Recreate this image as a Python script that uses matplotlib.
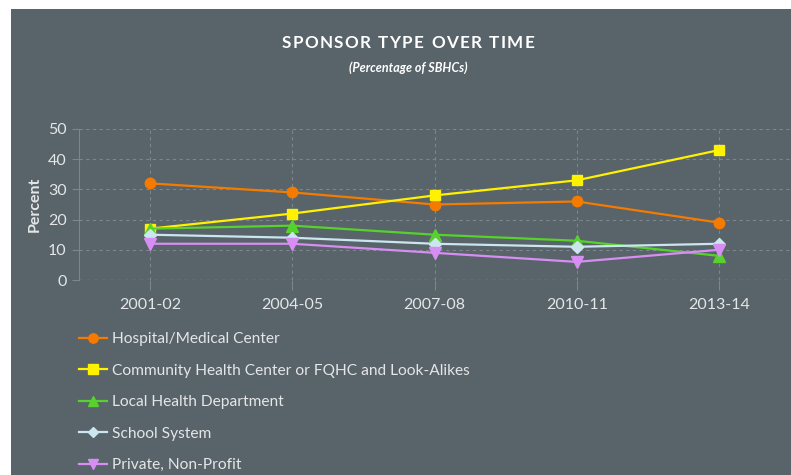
import numpy as np
import matplotlib
matplotlib.use("Agg")
import matplotlib.pyplot as plt
from matplotlib.patches import Rectangle

# data
years = ["2001-02", "2004-05", "2007-08", "2010-11", "2013-14"]
hospital = [32, 29, 25, 26, 19]
chc = [17, 22, 28, 33, 43]
health_dept = [17, 18, 15, 13, 8]
school = [15, 14, 12, 11, 12]
private = [12, 12, 9, 6, 10]

series = [
    ("Hospital/Medical Center", hospital, "#F47B00", "o"),
    ("Community Health Center or FQHC and Look-Alikes", chc, "#FFF200", "s"),
    ("Local Health Department", health_dept, "#57D22C", "^"),
    ("School System", school, "#CBE6EF", "D"),
    ("Private, Non-Profit", private, "#D68EF2", "v"),
]

bg = "#59636A"
gridc = "#7C868C"
textc = "#E4E6E7"
plt.rcParams["font.family"] = ["Lato", "DejaVu Sans"]

fig = plt.figure(figsize=(7.91, 4.75), dpi=100)
fig.patch.set_facecolor("white")
# dark panel, white strip on the left and top
fig.patches.append(Rectangle((11 / 791, 0), 1, 1 - 9 / 475, transform=fig.transFigure,
                             facecolor=bg, edgecolor="none", zorder=-10))

ax = fig.add_axes([79 / 791, 1 - 280 / 475, (790 - 79) / 791, (280 - 129) / 475])
ax.set_facecolor(bg)
x = np.arange(len(years))
sizes = {"o": 7.5, "s": 7.5, "^": 8, "D": 6, "v": 8}
for name, vals, col, m in series:
    ax.plot(x, vals, color=col, marker=m, markersize=sizes[m], linewidth=1.6,
            label=name, clip_on=False, zorder=3)

ax.set_xlim(-0.5, len(years) - 0.5)
ax.set_ylim(0, 50)
ax.set_yticks([0, 10, 20, 30, 40, 50])
ax.set_xticks(x)
ax.set_xticklabels(years)
ax.grid(True, color=gridc, linestyle=(0, (3, 3)), linewidth=0.8)
ax.set_axisbelow(True)
for s in ["top", "right", "bottom"]:
    ax.spines[s].set_visible(False)
ax.spines["left"].set_color(gridc)
ax.spines["left"].set_linewidth(0.8)
ax.axhline(0, color="#9AA2A7", linestyle=(0, (3, 3)), linewidth=0.9, zorder=1)
ax.tick_params(axis="both", colors=gridc, labelcolor=textc, labelsize=11.5)
ax.tick_params(axis="x", length=7, pad=6)
ax.tick_params(axis="y", length=5, pad=4)
ax.set_ylabel("Percent", color=textc, fontsize=11.5, fontweight="bold", labelpad=4)

# title with letter spacing: place each character
title = "SPONSOR TYPE OVER TIME"
track = 1.3  # extra px between letters
fig.canvas.draw()
r = fig.canvas.get_renderer()
widths = []
for ch in title:
    t = fig.text(0, 0, ch if ch != " " else "n", fontsize=12.3, fontweight="bold")
    w = t.get_window_extent(r).width
    if ch == " ":
        w *= 0.5
    widths.append(w)
    t.remove()
total = sum(widths) + track * (len(title) - 1)
xpos = 408 - total / 2
for ch, w in zip(title, widths):
    if ch != " ":
        fig.text(xpos / 791, 1 - 43 / 475, ch, color="white", fontsize=12.3,
                 fontweight="bold", ha="left", va="center")
    xpos += w + track

fig.text(408 / 791, 1 - 68 / 475, "(Percentage of SBHCs)", color="white",
         fontsize=9, fontweight="bold", style="italic", ha="center", va="center")

leg = fig.legend(loc="upper left", bbox_to_anchor=(79 / 791, 1 - 332 / 475),
                 frameon=False, fontsize=11.2, labelcolor=textc, handlelength=1.8,
                 handletextpad=0.3, labelspacing=1.13, borderaxespad=0, borderpad=0,
                 markerscale=0.9)

fig.savefig("out.png", dpi=100, facecolor=fig.get_facecolor())
